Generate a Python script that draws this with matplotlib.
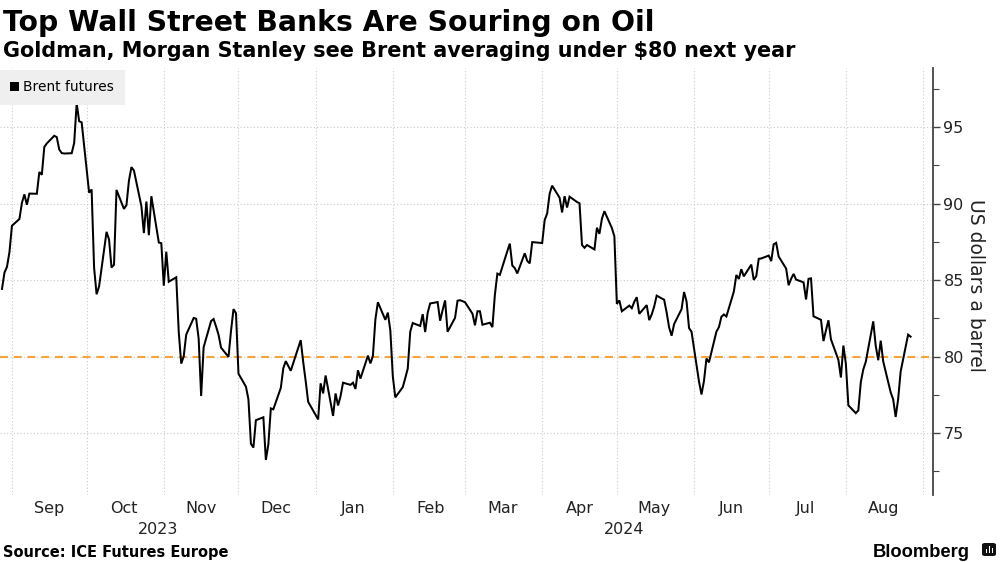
#!/usr/bin/env python3
"""
Brent futures, cierres diarios ago-2023 a ago-2024, estilo grafico Bloomberg.
Genera out.png (1000x562).
"""

import matplotlib
matplotlib.use("Agg")
import matplotlib.pyplot as plt
import matplotlib.dates as mdates
from matplotlib.patches import Patch, FancyBboxPatch, Rectangle
from matplotlib.transforms import blended_transform_factory
import pandas as pd

# --- datos (USD/barril, un valor por dia habil) ---------------------------
feriados = ["2023-12-25", "2024-01-01", "2024-03-29"]

ago_2023 = [84.42, 85.49, 85.86, 86.83]
sep_2023 = [88.55, 88.99, 90.04, 90.60, 89.92, 90.65, 90.64, 92.06, 91.88, 93.70, 93.93,
            94.43, 94.34, 93.53, 93.30, 93.27, 93.29, 93.96, 96.55, 95.38, 95.31]
oct_2023 = [90.71, 90.92, 85.81, 84.07, 84.58, 88.15, 87.65, 85.82, 86.00, 90.89, 89.65,
            89.90, 91.50, 92.38, 92.16, 89.83, 88.07, 90.13, 87.93, 90.48, 87.45, 87.41]
nov_2023 = [84.63, 86.85, 84.89, 85.18, 81.61, 79.54, 80.01, 81.43, 82.52, 82.47, 81.18,
            77.42, 80.61, 82.32, 82.45, 81.96, 81.42, 80.58, 79.98, 81.68, 83.10, 82.83]
dic_2023 = [78.88, 78.03, 77.20, 74.30, 74.05, 75.84, 76.03, 73.24, 74.26, 76.61, 76.55,
            77.95, 79.23, 79.70, 79.39, 79.07, 81.07, 79.65, 78.39, 77.04]
ene_2024 = [75.89, 78.25, 77.59, 78.76, 76.12, 77.59, 76.80, 77.41, 78.29, 78.15, 78.29,
            77.88, 79.10, 78.56, 80.06, 79.55, 80.04, 82.43, 83.55, 82.40, 82.87, 81.71]
feb_2024 = [78.70, 77.33, 78.00, 78.59, 79.21, 81.63, 82.19, 82.00, 82.77, 81.60, 82.86,
            83.47, 83.56, 82.34, 83.03, 83.67, 81.62, 82.53, 83.65, 83.68, 83.62]
mar_2024 = [83.55, 82.80, 82.04, 82.96, 82.96, 82.08, 82.21, 81.92, 84.03, 85.42, 85.34,
            86.89, 87.38, 85.95, 85.78, 85.43, 86.75, 86.25, 86.09, 87.48]
abr_2024 = [87.42, 88.92, 89.35, 90.65, 91.17, 90.38, 89.42, 90.48, 89.74, 90.45, 90.10,
            90.02, 87.29, 87.11, 87.29, 87.00, 88.42, 88.02, 89.01, 89.50, 88.40, 87.86]
may_2024 = [83.44, 83.67, 82.96, 83.33, 83.16, 83.58, 83.88, 82.79, 83.36, 82.38, 82.75,
            83.27, 83.98, 83.71, 82.88, 81.90, 81.36, 82.12, 83.10, 84.22, 83.60, 81.86, 81.62]
jun_2024 = [78.36, 77.52, 78.41, 79.87, 79.62, 81.63, 81.92, 82.60, 82.75, 82.62, 84.25,
            85.33, 85.07, 85.71, 85.24, 86.01, 85.01, 85.25, 86.39, 86.41]
jul_2024 = [86.60, 86.24, 87.34, 87.43, 86.54, 85.75, 84.66, 85.08, 85.40, 85.03, 84.85,
            83.73, 85.08, 85.11, 82.63, 82.40, 81.01, 81.71, 82.37, 81.13, 79.78, 78.63, 80.72]
ago_2024 = [79.52, 76.81, 76.30, 76.48, 78.33, 79.16, 79.66, 82.30, 80.69, 79.76, 81.04,
            79.68, 77.66, 77.20, 76.05, 77.22, 79.02, 81.43, 81.30]

tramos = [
    ("2023-08-28", "2023-08-31", ago_2023),
    ("2023-09-01", "2023-09-30", sep_2023),
    ("2023-10-01", "2023-10-31", oct_2023),
    ("2023-11-01", "2023-11-30", nov_2023),
    ("2023-12-01", "2023-12-31", dic_2023),
    ("2024-01-01", "2024-01-31", ene_2024),
    ("2024-02-01", "2024-02-29", feb_2024),
    ("2024-03-01", "2024-03-31", mar_2024),
    ("2024-04-01", "2024-04-30", abr_2024),
    ("2024-05-01", "2024-05-31", may_2024),
    ("2024-06-01", "2024-06-30", jun_2024),
    ("2024-07-01", "2024-07-31", jul_2024),
    ("2024-08-01", "2024-08-27", ago_2024),
]

referencia = 80
anios = ["2023", "2024"]

TITULO = "Top Wall Street Banks Are Souring on Oil"
SUBTITULO = "Goldman, Morgan Stanley see Brent averaging under $80 next year"
FUENTE = "Source: ICE Futures Europe"

W, H = 1000, 562


def armar_serie():
    fechas, valores = [], []
    hol = pd.to_datetime(feriados)
    for ini, fin, vals in tramos:
        dias = pd.bdate_range(ini, fin)
        dias = dias[~dias.isin(hol)]
        assert len(dias) == len(vals), (ini, len(dias), len(vals))
        fechas.extend(dias)
        valores.extend(vals)
    return pd.Series(valores, index=pd.DatetimeIndex(fechas))


def fy(px):
    """pixel vertical (desde arriba) -> coordenada de figura"""
    return 1 - px / H


def ajustar_ancho(fig, txt, ancho_px):
    r = fig.canvas.get_renderer()
    w = txt.get_window_extent(r).width
    txt.set_fontsize(txt.get_fontsize() * ancho_px / w)


def main():
    serie = armar_serie()

    fig = plt.figure(figsize=(W / 100, H / 100), dpi=100)
    ax = fig.add_axes([0, fy(495), 933 / W, (495 - 68) / H])

    ax.plot(serie.index, serie.values, color="black", lw=1.45, zorder=3,
            solid_joinstyle="miter")
    ax.axhline(referencia, color="#f5a43c", lw=1.5, dashes=(3.8, 2.8), zorder=2)

    x0 = pd.Timestamp("2023-09-01") - pd.Timedelta(days=4.8)
    x1 = pd.Timestamp("2023-09-01") + pd.Timedelta(days=370)
    ax.set_xlim(x0, x1)
    ax.set_ylim(70.95, 98.86)

    # eje x: grilla en inicio de mes, etiqueta a mitad de mes
    ax.xaxis.set_major_locator(mdates.MonthLocator())
    ax.xaxis.set_major_formatter(plt.NullFormatter())
    ax.xaxis.set_minor_locator(mdates.MonthLocator(bymonthday=16))
    ax.xaxis.set_minor_formatter(mdates.DateFormatter("%b"))
    ax.tick_params(axis="x", which="both", length=0)
    ax.tick_params(axis="x", which="minor", labelsize=11.5, pad=4, labelcolor="#222222")

    # eje y a la derecha
    ax.yaxis.tick_right()
    ax.yaxis.set_major_locator(plt.MultipleLocator(5))
    ax.yaxis.set_minor_locator(plt.MultipleLocator(2.5))
    ax.tick_params(axis="y", which="major", direction="out", length=5, width=1,
                   color="#444444", labelsize=11.5, pad=2.5, labelcolor="#222222")
    ax.tick_params(axis="y", which="minor", direction="out", length=4, width=0.8,
                   color="#444444")

    for lado in ["left", "top", "bottom"]:
        ax.spines[lado].set_visible(False)
    ax.spines["right"].set_color("#444444")
    ax.spines["right"].set_linewidth(1.3)

    ax.grid(which="major", axis="both", color="#c9c9c9", linestyle=(0, (1, 2)), lw=0.8)
    ax.set_axisbelow(True)

    # anios centrados en el tramo visible de cada uno
    trans = blended_transform_factory(ax.transData, fig.transFigure)
    for anio in anios:
        a = max(pd.Timestamp(f"{anio}-01-01"), x0)
        b = min(pd.Timestamp(f"{int(anio) + 1}-01-01"), x1)
        centro = a + (b - a) / 2
        ax.text(centro, fy(534), anio, transform=trans, ha="center", va="baseline",
                fontsize=11.5, color="#222222")

    leg = ax.legend(handles=[Patch(facecolor="black", edgecolor="none", label="Brent futures")],
                    loc="upper left", bbox_to_anchor=(0, 1 - 2 / 427), borderaxespad=0,
                    frameon=True, fancybox=False, facecolor="#efefef", edgecolor="none",
                    framealpha=1, fontsize=9.9, handlelength=0.65, handleheight=0.65,
                    handletextpad=0.3, borderpad=0.75)
    leg.set_zorder(5)

    fig.text(975 / W, fy(285), "US dollars a barrel", rotation=270, ha="center",
             va="center", fontsize=13.5, color="#222222")

    t1 = fig.text(3 / W, fy(31), TITULO, fontsize=20.3, fontweight="bold", va="baseline")
    t2 = fig.text(3 / W, fy(57), SUBTITULO, fontsize=14.8, fontweight="bold", va="baseline")
    t3 = fig.text(3 / W, fy(557), FUENTE, fontsize=10, fontweight="bold", va="baseline")
    t4 = fig.text(873 / W, fy(557), "Bloomberg", fontsize=13.2, fontweight="bold",
                  va="baseline", family="Liberation Sans")
    ajustar_ancho(fig, t1, 654)
    ajustar_ancho(fig, t2, 790)
    ajustar_ancho(fig, t3, 226)
    ajustar_ancho(fig, t4, 97)

    # iconito del logo
    fig.patches.append(FancyBboxPatch((982 / W, fy(556)), 14 / W, 13 / H,
                                      boxstyle="round,pad=0,rounding_size=0.003",
                                      transform=fig.transFigure, facecolor="#111111",
                                      edgecolor="none"))
    for i, alto in enumerate([4, 7, 5]):
        fig.patches.append(Rectangle(((985.5 + i * 3) / W, fy(552.5)), 1.6 / W, alto / H,
                                     transform=fig.transFigure, facecolor="white",
                                     edgecolor="none"))

    fig.savefig("out.png", dpi=100, facecolor="white")
    plt.close(fig)


if __name__ == "__main__":
    main()
